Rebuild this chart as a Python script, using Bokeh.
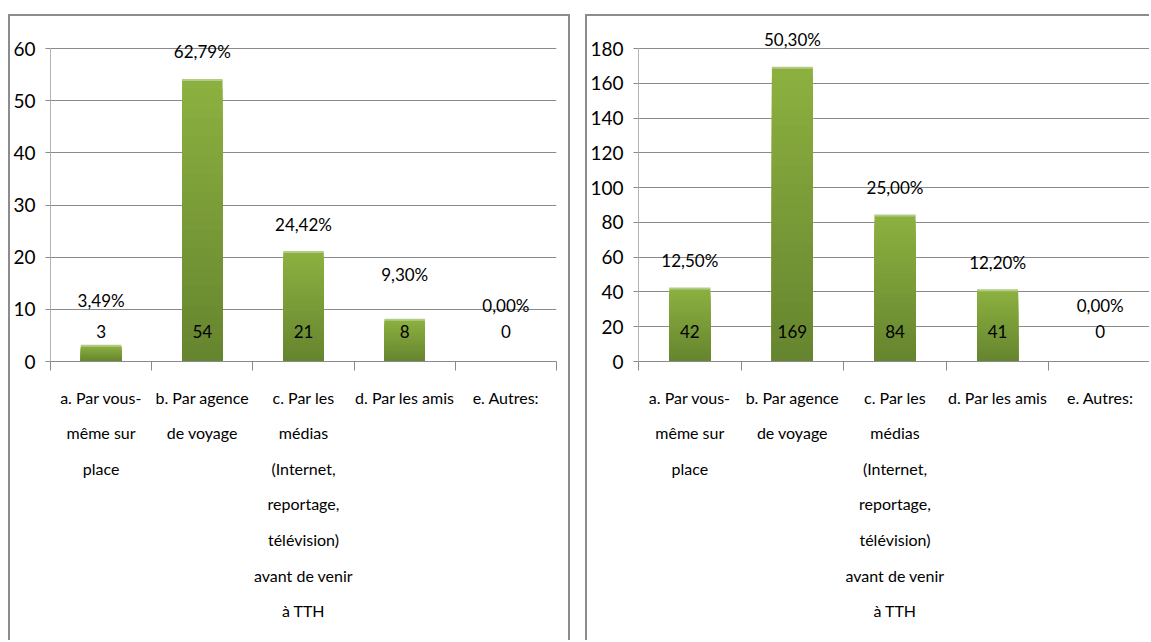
from bokeh.plotting import figure
from bokeh.models import Range1d, LinearAxis, FixedTicker
from bokeh.layouts import row
from bokeh.embed import file_html
from bokeh.resources import INLINE
from bokeh.core.properties import value

categories = [
    "a. Par vous-\nmême sur\nplace",
    "b. Par agence\nde voyage",
    "c. Par les\nmédias\n(Internet,\nreportage,\ntélévision)\navant de venir\nà TTH",
    "d. Par les amis",
    "e. Autres:",
]
left_counts = [3, 54, 21, 8, 0]
left_pcts = ["3,49%", "62,79%", "24,42%", "9,30%", "0,00%"]
left_ticks = [0, 10, 20, 30, 40, 50, 60]
right_counts = [42, 169, 84, 41, 0]
right_pcts = ["12,50%", "50,30%", "25,00%", "12,20%", "0,00%"]
right_ticks = [0, 20, 40, 60, 80, 100, 120, 140, 160, 180]

FONT = "Lato"
GRID = "#8a8a8a"
LIGHT = (0x8c, 0xb0, 0x40)
DARK = (0x66, 0x85, 0x2f)


def hexcol(c):
    return "#%02x%02x%02x" % c


def make_panel(counts, pcts, ticks, width, frame_left, border_right, right_border_css, margin_left):
    H = 626          # includes the 2px top border (border-box)
    canvas_h = H - 2
    top_b = 4
    frame_h = 339
    axis_px = 311.0
    tmax = ticks[-1]
    ymax = tmax * frame_h / axis_px
    ppu = axis_px / tmax
    n = len(categories)
    centers = [i + 0.5 for i in range(n)]

    p = figure(width=width, height=H, x_range=Range1d(0, n),
               y_range=Range1d(0, ymax), x_axis_location=None,
               output_backend="svg", toolbar_location=None,
               min_border_left=frame_left, min_border_right=border_right,
               min_border_top=top_b, min_border_bottom=canvas_h - top_b - frame_h)
    p.outline_line_color = None
    p.background_fill_color = "white"
    p.border_fill_color = "white"
    for g in p.xgrid:
        g.visible = False

    ya = p.yaxis[0]
    ya.ticker = FixedTicker(ticks=ticks)
    ya.bounds = (0, tmax)
    ya.axis_line_color = "#b4b4b4"
    ya.major_tick_line_color = GRID
    ya.major_tick_out = 5
    ya.major_tick_in = 0
    ya.minor_tick_line_color = None
    ya.major_label_text_font = FONT
    ya.major_label_text_font_size = "19px"
    ya.major_label_text_color = "black"
    ya.major_label_standoff = 10
    p.ygrid.ticker = FixedTicker(ticks=ticks)
    p.ygrid.grid_line_color = GRID

    div_axis = LinearAxis(ticker=FixedTicker(ticks=list(range(n + 1))),
                          axis_line_color=GRID, major_tick_line_color=GRID,
                          major_tick_out=9, major_tick_in=0, minor_tick_line_color=None,
                          major_label_text_font_size="0px", major_label_standoff=0,
                          major_label_overrides={i: "" for i in range(n + 1)})
    p.add_layout(div_axis, "below")
    cat_axis = LinearAxis(ticker=FixedTicker(ticks=centers),
                          axis_line_color=None, major_tick_line_color=None,
                          minor_tick_line_color=None,
                          major_tick_out=0, major_tick_in=0,
                          major_label_overrides={c: lab for c, lab in zip(centers, categories)},
                          major_label_text_font=FONT,
                          major_label_text_font_size="16px",
                          major_label_text_line_height=1.875,
                          major_label_text_color="black",
                          major_label_standoff=17)
    p.add_layout(cat_axis, "below")

    # gradient bars: stacked, each shorter and darker
    N = 30
    xs, tops, cols = [], [], []
    for k in range(N):
        f = k / (N - 1)
        c = tuple(int(round(LIGHT[i] + (DARK[i] - LIGHT[i]) * f)) for i in range(3))
        for x, v in zip(centers, counts):
            if v <= 0:
                continue
            xs.append(x)
            tops.append(v * (N - k) / N)
            cols.append(hexcol(c))
    p.vbar(x=xs, top=tops, bottom=0, width=0.4, fill_color=cols, line_color=None)

    hx = [x for x, v in zip(centers, counts) if v > 0]
    hv = [v for v in counts if v > 0]
    p.vbar(x=hx, top=hv, bottom=hv, width=0.4, fill_color=None,
           line_color="#b3cc85", line_width=2)

    # count labels near base
    p.text(x=centers, y=[0] * n, text=[str(v) for v in counts],
           y_offset=-30, text_align="center", text_baseline="middle",
           text_font=value(FONT), text_font_size="17px", text_color="black")

    # percentage labels above bars
    offs = []
    for v in counts:
        top_px = v * ppu
        if top_px < 50:
            center = max(top_px + 45, 56)
        else:
            center = top_px + 28
        offs.append(-(center - top_px))
    p.text(x=centers, y=counts, text=pcts, y_offset=offs,
           text_align="center", text_baseline="middle",
           text_font=value(FONT), text_font_size="17px", text_color="black")

    st = {"border-top": "2px solid #8c8c8c", "border-left": "2px solid #8c8c8c",
          "margin-top": "14px", "margin-left": "%dpx" % margin_left}
    if right_border_css:
        st["border-right"] = "2px solid #8c8c8c"
    p.styles = st
    return p


p1 = make_panel(left_counts, left_pcts, left_ticks, 562, 40, 16, True, 8)
p2 = make_panel(right_counts, right_pcts, right_ticks, 564, 46, 0, False, 0)

layout = row(p1, p2, spacing=15)
open("out.html", "w").write(file_html(layout, INLINE))
